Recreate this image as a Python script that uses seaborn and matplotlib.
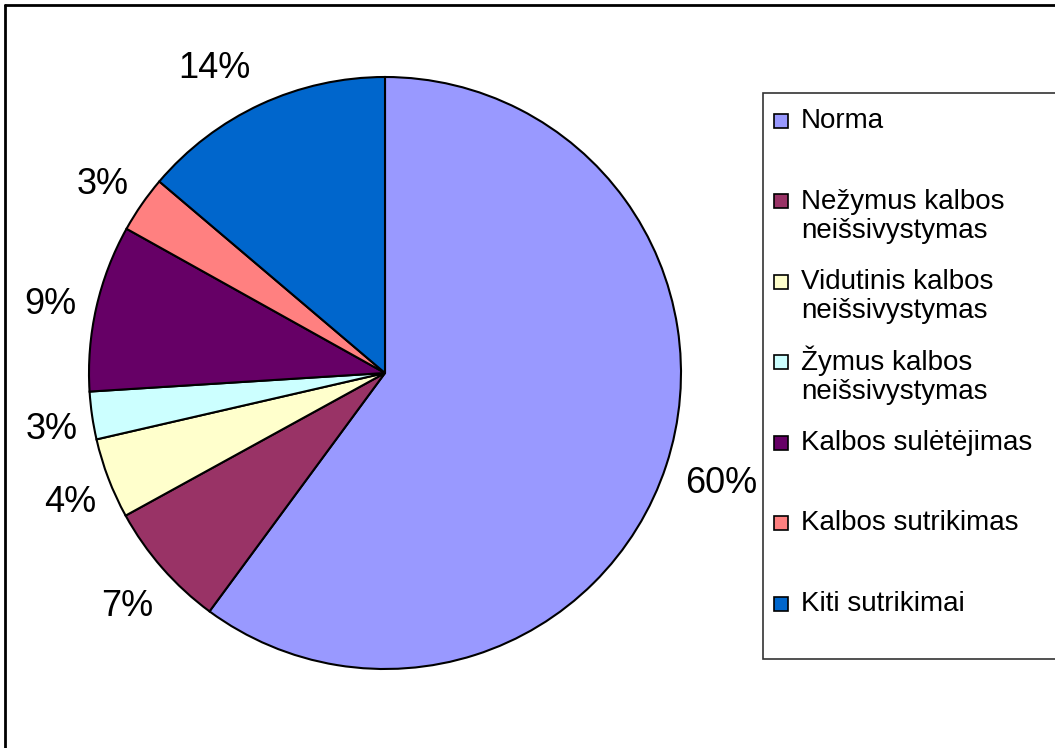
import matplotlib
matplotlib.use("Agg")
import matplotlib.pyplot as plt
from matplotlib.patches import Rectangle
from matplotlib.lines import Line2D
import seaborn as sns

# data (shares in %)
categories = ["Norma",
              "Nežymus kalbos\nneišsivystymas",
              "Vidutinis kalbos\nneišsivystymas",
              "Žymus kalbos\nneišsivystymas",
              "Kalbos sulėtėjimas",
              "Kalbos sutrikimas",
              "Kiti sutrikimai"]
shares = [60.1, 6.9, 4.4, 2.6, 9.1, 3.1, 13.8]
colors = ["#9999FF", "#993366", "#FFFFCC", "#CCFFFF", "#660066", "#FF8080", "#0066CC"]

sns.set_style("white")
plt.rcParams['font.family'] = ['Liberation Sans', 'DejaVu Sans']
plt.rcParams['text.color'] = 'black'

W, H = 1055, 748
fig = plt.figure(figsize=(W / 100, H / 100), dpi=100)
ax = fig.add_axes([0, 0, 1, 1])

# pixel-like coordinates, y pointing up
cx, cy, r = 385, H - 373, 296
wedges, texts, autotexts = ax.pie(shares, colors=colors, startangle=90, counterclock=False,
                                  center=(cx, cy), radius=r,
                                  autopct='%.0f%%', pctdistance=1.16,
                                  wedgeprops=dict(edgecolor='black', linewidth=1.5),
                                  textprops=dict(fontsize=26, color='black'))
# nudge labels to where Excel put them
dx = [0, 0, 6, 6, 0, 0, -26]
for k, t in enumerate(autotexts):
    x, y = t.get_position()
    if k == 0:
        x, y = cx + (x - cx) * 1.03, cy + (y - cy) * 1.03 + 7
    t.set_position((x + dx[k], y - 7))

ax.set_xlim(0, W)
ax.set_ylim(0, H)
ax.set_aspect('auto')
ax.axis('off')

# outer frame (left and top edges visible)
fig.add_artist(Line2D([5 / W, 5 / W], [0, 1 - 5 / H], transform=fig.transFigure, color='black', lw=2))
fig.add_artist(Line2D([5 / W, 1], [1 - 5 / H, 1 - 5 / H], transform=fig.transFigure, color='black', lw=2))

# legend box, drawn by hand to keep Excel-like layout
ax.add_patch(Rectangle((763, H - 659), 320, 566, facecolor='white', edgecolor='#333333',
                       lw=1.2, clip_on=False))
for i, (lab, col) in enumerate(zip(categories, colors)):
    yc = 120 + 80.5 * i
    ax.add_patch(Rectangle((774, H - yc - 7.5), 14, 14, facecolor=col, edgecolor='black', lw=1.2))
    for j, line in enumerate(lab.split("\n")):
        ax.text(801, H - (yc + 8 + 29 * j), line, fontsize=20, va='baseline', ha='left',
                color='black')

fig.savefig("out.png", dpi=100)
